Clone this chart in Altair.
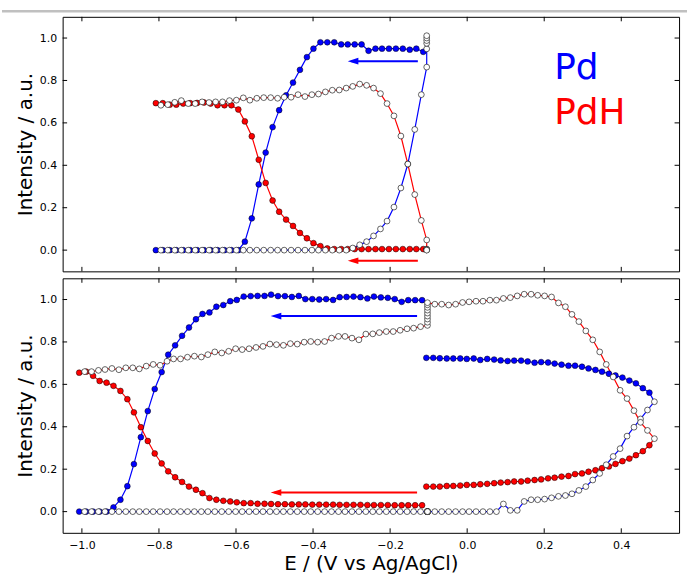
import altair as alt
import pandas as pd

# ---------------- axis ticks ----------------
x_ticks = [-1.0, -0.8, -0.6, -0.4, -0.2, 0.0, 0.2, 0.4]
y_ticks = [0.0, 0.2, 0.4, 0.6, 0.8, 1.0]

# ---------------- top panel ----------------
# cathodic sweep (filled markers), listed in ascending potential
top_fwd_x = [-0.808, -0.790, -0.772, -0.755, -0.737, -0.719, -0.701, -0.683, -0.666, -0.648,
             -0.630, -0.612, -0.594, -0.577, -0.559, -0.541, -0.523, -0.505, -0.488, -0.470,
             -0.452, -0.434, -0.416, -0.399, -0.381, -0.363, -0.345, -0.327, -0.310, -0.292,
             -0.274, -0.256, -0.238, -0.221, -0.203, -0.185, -0.167, -0.149, -0.132, -0.114]
top_fwd_pd = [0, 0, 0, 0, 0, 0, 0, 0, 0, 0, 0, 0, 0, 0.04, 0.15, 0.31, 0.46, 0.58, 0.66, 0.73,
              0.79, 0.85, 0.91, 0.95, 0.98, 0.98, 0.98, 0.97, 0.97, 0.97, 0.97, 0.94, 0.95, 0.95,
              0.95, 0.95, 0.95, 0.945, 0.95, 0.935]
top_fwd_pdh = [0.693, 0.693, 0.686, 0.686, 0.691, 0.693, 0.694, 0.696, 0.691, 0.683,
               0.683, 0.683, 0.663, 0.607, 0.537, 0.426, 0.317, 0.234, 0.181, 0.144,
               0.114, 0.081, 0.056, 0.033, 0.019, 0.008, 0.005, 0.005, 0.005, 0.005,
               0.005, 0.005, 0.005, 0.005, 0.005, 0.005, 0.005, 0.005, 0.005, 0.005]
# anodic sweep (open markers)
top_ret_x = [-0.795, -0.777, -0.759, -0.742, -0.724, -0.706, -0.688, -0.670, -0.653, -0.635,
             -0.617, -0.599, -0.581, -0.564, -0.546, -0.528, -0.510, -0.492, -0.475, -0.457,
             -0.439, -0.421, -0.403, -0.386, -0.368, -0.350, -0.332, -0.314, -0.297, -0.279,
             -0.261, -0.243, -0.225, -0.208, -0.190, -0.172, -0.154, -0.136, -0.119]
top_ret_pd = [0, 0, 0, 0, 0, 0, 0, 0, 0, 0, 0, 0, 0, 0, 0, 0, 0, 0, 0, 0,
              0, 0, 0, 0, 0, 0, 0, 0, 0.01, 0.025, 0.04, 0.067, 0.1, 0.137, 0.203, 0.293,
              0.406, 0.569, 0.733]
top_ret_pdh = [0.683, 0.686, 0.697, 0.705, 0.691, 0.691, 0.699, 0.696, 0.699, 0.699,
               0.705, 0.707, 0.718, 0.707, 0.716, 0.719, 0.719, 0.716, 0.721, 0.721,
               0.733, 0.724, 0.733, 0.736, 0.746, 0.754, 0.755, 0.764, 0.772, 0.783,
               0.777, 0.764, 0.738, 0.691, 0.633, 0.538, 0.406, 0.262, 0.140]
# potential hold at the end (open markers)
top_hold_x = [-0.105, -0.105, -0.105, -0.105, -0.105, -0.105]
top_hold_pd = [0.863, 0.949, 0.975, 0.988, 1.0, 1.011]
top_hold_pdh = [0.048, 0.005, 0.003, 0.002, 0.001, 0.0]

# ---------------- bottom panel ----------------
# first cathodic sweep (filled), ascending potential
bot_fwd_x = [-1.007, -0.989, -0.971, -0.954, -0.936, -0.918, -0.900, -0.882, -0.865, -0.847,
             -0.829, -0.811, -0.793, -0.776, -0.758, -0.740, -0.722, -0.704, -0.687, -0.669,
             -0.651, -0.633, -0.615, -0.598, -0.580, -0.562, -0.544, -0.526, -0.509, -0.491,
             -0.473, -0.455, -0.437, -0.420, -0.402, -0.384, -0.366, -0.348, -0.331, -0.313,
             -0.295, -0.277, -0.259, -0.242, -0.224, -0.206, -0.188, -0.170, -0.153, -0.135,
             -0.117]
bot_fwd_pd = [0, 0, 0, 0, 0, 0.02, 0.056, 0.12, 0.224, 0.351,
              0.474, 0.578, 0.658, 0.74, 0.784, 0.829, 0.868, 0.907, 0.932, 0.939,
              0.966, 0.974, 0.992, 0.998, 1.014, 1.016, 1.017, 1.017, 1.023, 1.016,
              1.016, 1.012, 1.017, 1.002, 1.002, 1.0, 1.002, 0.998, 1.011, 1.012,
              1.014, 1.011, 1.005, 1.014, 1.01, 1.008, 1.002, 0.989, 0.997, 0.997,
              0.997]
bot_fwd_pdh = [0.655, 0.66, 0.64, 0.616, 0.608, 0.593, 0.569, 0.53, 0.468, 0.398,
               0.333, 0.274, 0.227, 0.19, 0.162, 0.14, 0.118, 0.103, 0.087, 0.064,
               0.056, 0.051, 0.048, 0.044, 0.04, 0.04, 0.037, 0.037, 0.036, 0.035,
               0.035, 0.034, 0.034, 0.034, 0.033, 0.033, 0.033, 0.033, 0.032, 0.032,
               0.032, 0.032, 0.031, 0.031, 0.031, 0.031, 0.030, 0.030, 0.030, 0.030,
               0.030]
# anodic sweep up to the hold (open)
bot_ret1_x = [-0.993, -0.975, -0.957, -0.940, -0.922, -0.904, -0.886, -0.868, -0.851, -0.833,
              -0.815, -0.797, -0.779, -0.762, -0.744, -0.726, -0.708, -0.690, -0.673, -0.655,
              -0.637, -0.619, -0.601, -0.584, -0.566, -0.548, -0.530, -0.512, -0.495, -0.477,
              -0.459, -0.441, -0.423, -0.406, -0.388, -0.370, -0.352, -0.334, -0.317, -0.299,
              -0.281, -0.263, -0.245, -0.228, -0.210, -0.192, -0.174, -0.156, -0.139, -0.121]
bot_ret1_pd = [0, 0, 0, 0, 0, 0, 0, 0, 0, 0, 0, 0, 0, 0, 0, 0, 0, 0, 0, 0, 0, 0, 0, 0, 0,
               0, 0, 0, 0, 0, 0, 0, 0, 0, 0, 0, 0, 0, 0, 0, 0, 0, 0, 0, 0, 0, 0, 0, 0, 0]
bot_ret1_pdh = [0.66, 0.66, 0.666, 0.67, 0.675, 0.669, 0.678, 0.678, 0.673, 0.686,
                0.694, 0.69, 0.709, 0.72, 0.72, 0.728, 0.733, 0.729, 0.74, 0.753,
                0.748, 0.756, 0.768, 0.764, 0.768, 0.774, 0.779, 0.79, 0.787, 0.784,
                0.792, 0.79, 0.799, 0.802, 0.799, 0.802, 0.818, 0.826, 0.826, 0.818,
                0.81, 0.837, 0.838, 0.844, 0.849, 0.849, 0.855, 0.862, 0.865, 0.872]
# potential hold (open)
bot_hold_x = [-0.103, -0.103, -0.103, -0.103, -0.103, -0.103, -0.103, -0.103, -0.103]
bot_hold_pd = [0, 0, 0, 0, 0, 0, 0, 0, 0]
bot_hold_pdh = [0.878, 0.893, 0.908, 0.922, 0.936, 0.95, 0.963, 0.975, 0.985]
# anodic sweep to the vertex (open)
bot_ret2_x = [-0.084, -0.066, -0.048, -0.030, -0.012, 0.005, 0.023, 0.041, 0.059, 0.076,
              0.094, 0.112, 0.130, 0.148, 0.166, 0.183, 0.201, 0.219, 0.237, 0.255,
              0.272, 0.290, 0.308, 0.326, 0.344, 0.361, 0.379, 0.397, 0.415, 0.433,
              0.450, 0.468, 0.486]
bot_ret2_pd = [0, 0, 0, 0, 0, 0, 0, 0, 0, 0,
               0.036, 0.006, 0.006, 0.048, 0.056, 0.056, 0.059, 0.065, 0.072, 0.076,
               0.084, 0.1, 0.118, 0.149, 0.18, 0.221, 0.26, 0.297, 0.356, 0.398,
               0.437, 0.479, 0.518]
bot_ret2_pdh = [0.978, 0.978, 0.974, 0.978, 0.986, 0.989, 0.992, 0.992, 0.997, 0.997,
                1.005, 1.009, 1.017, 1.025, 1.025, 1.02, 1.017, 1.012, 0.984, 0.966,
                0.93, 0.896, 0.852, 0.81, 0.753, 0.694, 0.635, 0.572, 0.533, 0.476,
                0.421, 0.383, 0.344]
# cathodic sweep back from the vertex (filled), ascending potential
bot_back_x = [-0.106, -0.088, -0.071, -0.053, -0.036, -0.018, -0.001, 0.017, 0.034, 0.052,
              0.070, 0.087, 0.105, 0.122, 0.140, 0.157, 0.175, 0.192, 0.210, 0.227,
              0.245, 0.263, 0.280, 0.298, 0.315, 0.333, 0.350, 0.368, 0.385, 0.403,
              0.421, 0.438, 0.456, 0.473]
bot_back_pd = [0.725, 0.725, 0.723, 0.722, 0.722, 0.722, 0.72, 0.722, 0.715, 0.72,
               0.717, 0.713, 0.71, 0.712, 0.712, 0.708, 0.702, 0.705, 0.703, 0.698,
               0.693, 0.688, 0.688, 0.683, 0.675, 0.668, 0.66, 0.65, 0.642, 0.632,
               0.618, 0.605, 0.582, 0.561]
bot_back_pdh = [0.118, 0.118, 0.118, 0.121, 0.121, 0.123, 0.126, 0.126, 0.129, 0.131,
                0.134, 0.137, 0.139, 0.142, 0.142, 0.146, 0.149, 0.152, 0.157, 0.16,
                0.165, 0.168, 0.177, 0.18, 0.188, 0.195, 0.205, 0.213, 0.225, 0.238,
                0.25, 0.266, 0.285, 0.313]

# ---------------- annotations ----------------
arrow_tail_x = [-0.128, -0.130]      # top, bottom
arrow_tip_x = [-0.310, -0.510]
arrow_pd_y = [0.891, 0.922]
arrow_pdh_y = [-0.05, 0.09]
label_text = ["Pd", "PdH"]
label_x = [0.226, 0.226]
label_y = [0.808, 0.593]

BLUE = "#0000ff"
RED = "#ff0000"
FONT = "DejaVu Sans"
W, H = 620, 256


def build_rows(segments):
    rows = []
    o = 0
    for xs, ys, sp, kind in segments:
        for xv, yv in zip(xs, ys):
            rows.append({"x": xv, "y": yv, "sp": sp, "kind": kind, "o": o})
            o += 1
    return rows


def rev(a):
    return list(reversed(a))


top_rows = (
    build_rows([(rev(top_fwd_x), rev(top_fwd_pd), "Pd", "filled"),
                (top_ret_x, top_ret_pd, "Pd", "open"),
                (top_hold_x, top_hold_pd, "Pd", "open")])
    + build_rows([(rev(top_fwd_x), rev(top_fwd_pdh), "PdH", "filled"),
                  (top_ret_x, top_ret_pdh, "PdH", "open"),
                  (top_hold_x, top_hold_pdh, "PdH", "open")])
)
bot_rows = (
    build_rows([(rev(bot_fwd_x), rev(bot_fwd_pd), "Pd", "filled"),
                (bot_ret1_x, bot_ret1_pd, "Pd", "open"),
                (bot_hold_x, bot_hold_pd, "Pd", "open"),
                (bot_ret2_x, bot_ret2_pd, "Pd", "open"),
                (rev(bot_back_x), rev(bot_back_pd), "Pd", "filled")])
    + build_rows([(rev(bot_fwd_x), rev(bot_fwd_pdh), "PdH", "filled"),
                  (bot_ret1_x, bot_ret1_pdh, "PdH", "open"),
                  (bot_hold_x, bot_hold_pdh, "PdH", "open"),
                  (bot_ret2_x, bot_ret2_pdh, "PdH", "open"),
                  (rev(bot_back_x), rev(bot_back_pdh), "PdH", "filled")])
)

sp_scale = alt.Scale(domain=["Pd", "PdH"], range=[BLUE, RED])
x_scale = alt.Scale(domain=[-1.05, 0.55], nice=False, zero=False)
y_scale = alt.Scale(domain=[-0.1, 1.1], nice=False, zero=False)

y_axis = alt.Axis(values=y_ticks, format=".1f", title="Intensity / a.u.", ticks=False, tickSize=0,
                  domain=False, grid=False, labelFont=FONT, labelFontSize=11, labelPadding=6,
                  labelColor="black", titleFont=FONT, titleFontSize=20, titleFontWeight="normal",
                  titleColor="black", titleX=-31, titleY=H / 2, titleAngle=270,
                  titleBaseline="alphabetic", titleAlign="center")
x_axis = alt.Axis(values=x_ticks, format=".1f", title="E / (V vs Ag/AgCl)", ticks=False, tickSize=0,
                  domain=False, grid=False, labelFont=FONT, labelFontSize=11, labelPadding=16,
                  labelBaseline="alphabetic", labelColor="black", labelFlush=False,
                  titleFont=FONT, titleFontSize=20, titleFontWeight="normal", titleColor="black",
                  titleX=W / 2, titleY=37, titleBaseline="alphabetic", titleAlign="center")


def panel(rows, idx, show_x, extra=None):
    df = pd.DataFrame(rows)
    xe = alt.X("x:Q", scale=x_scale, axis=x_axis if show_x else None)
    ye = alt.Y("y:Q", scale=y_scale, axis=y_axis)
    lines = alt.Chart(df).mark_line(strokeWidth=1.2).encode(
        x=xe, y=ye, color=alt.Color("sp:N", scale=sp_scale, legend=None), order="o:Q")
    filled = alt.Chart(df).transform_filter("datum.kind == 'filled'").mark_circle(
        size=34, opacity=1, stroke="black", strokeWidth=0.5).encode(
        x=xe, y=ye, color=alt.Color("sp:N", scale=sp_scale, legend=None))
    opened = alt.Chart(df).transform_filter("datum.kind == 'open'").mark_circle(
        size=34, opacity=1, fill="white", stroke="black", strokeWidth=0.6).encode(x=xe, y=ye)

    arr = pd.DataFrame({"x": [arrow_tip_x[idx] + 0.01, arrow_tip_x[idx] + 0.01],
                        "x2": [arrow_tail_x[idx], arrow_tail_x[idx]],
                        "y": [arrow_pd_y[idx], arrow_pdh_y[idx]],
                        "c": [BLUE, RED]})
    heads = pd.DataFrame({"x": [arrow_tip_x[idx], arrow_tip_x[idx]],
                          "y": [arrow_pd_y[idx], arrow_pdh_y[idx]],
                          "c": [BLUE, RED]})
    arrow_lines = alt.Chart(arr).mark_rule(strokeWidth=2).encode(
        x=xe, x2="x2:Q", y=ye, color=alt.Color("c:N", scale=None))
    arrow_heads = alt.Chart(heads).mark_point(
        shape="M 0 0 L 2 -0.63 L 2 0.63 Z", filled=True, size=114, opacity=1).encode(
        x=xe, y=ye, color=alt.Color("c:N", scale=None))

    xt = pd.DataFrame({"x": x_ticks})
    yt = pd.DataFrame({"y": y_ticks})
    tk = dict(color="black", strokeWidth=1)
    t_bot = alt.Chart(xt).mark_rule(**tk).encode(x=xe, y=alt.value(H), y2=alt.value(H - 4.5))
    t_top = alt.Chart(xt).mark_rule(**tk).encode(x=xe, y=alt.value(0), y2=alt.value(4.5))
    t_lft = alt.Chart(yt).mark_rule(**tk).encode(y=ye, x=alt.value(0), x2=alt.value(4.5))
    t_rgt = alt.Chart(yt).mark_rule(**tk).encode(y=ye, x=alt.value(W), x2=alt.value(W - 4.5))

    layers = [lines, filled, opened, arrow_lines, arrow_heads, t_bot, t_top, t_lft, t_rgt]
    if extra:
        layers += extra(xe, ye)
    return alt.layer(*layers).properties(width=W, height=H)


def top_extra(xe, ye):
    lab = pd.DataFrame({"x": label_x, "y": label_y, "t": label_text, "c": [BLUE, RED]})
    txt = alt.Chart(lab).mark_text(align="left", baseline="alphabetic", fontSize=36,
                                   font=FONT).encode(
        x=xe, y=ye, text="t:N", color=alt.Color("c:N", scale=None))
    band = alt.Chart(pd.DataFrame({"y": [0]})).mark_rule(color="#c0c0c0", strokeWidth=2.5).encode(
        x=alt.value(-61), x2=alt.value(628), y=alt.value(-5.5))
    return [txt, band]


top = panel(top_rows, 0, False, top_extra)
bottom = panel(bot_rows, 1, True)

chart = alt.vconcat(top, bottom, spacing=7, bounds="flush").properties(
    padding={"left": 0, "top": 7.25, "right": 0, "bottom": 0}
).configure(
    font=FONT,
    view=alt.ViewConfig(stroke="black", strokeWidth=1),
)

chart.save("out.html", embed_options={"renderer": "svg", "actions": False})
